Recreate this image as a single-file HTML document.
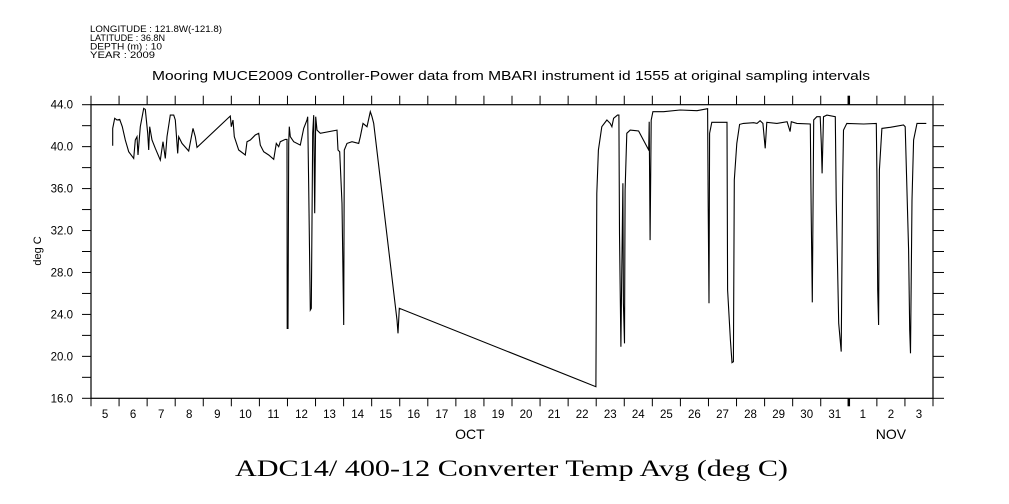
<!DOCTYPE html>
<html><head><meta charset="utf-8"><style>
body{margin:0;background:#fff;}
svg{display:block;font-family:"Liberation Sans",sans-serif;}
</style></head><body>
<svg width="1009" height="504" viewBox="0 0 1009 504" xmlns="http://www.w3.org/2000/svg">
<g font-size="9" fill="#000">
<text x="90" y="32" textLength="132" lengthAdjust="spacingAndGlyphs">LONGITUDE : 121.8W(-121.8)</text>
<text x="90" y="41" textLength="75" lengthAdjust="spacingAndGlyphs">LATITUDE : 36.8N</text>
<text x="90" y="49.5" textLength="72" lengthAdjust="spacingAndGlyphs">DEPTH (m) : 10</text>
<text x="90" y="58" textLength="65" lengthAdjust="spacingAndGlyphs">YEAR : 2009</text>
</g>
<text x="152" y="80" font-size="13" textLength="718" lengthAdjust="spacingAndGlyphs">Mooring MUCE2009 Controller-Power data from MBARI instrument id 1555 at original sampling intervals</text>
<text x="0" y="0" font-size="11" text-anchor="middle" transform="translate(41,251) rotate(-90)">deg C</text>
<text x="235" y="476" font-size="23" textLength="553" lengthAdjust="spacingAndGlyphs" font-family="Liberation Serif, serif">ADC14/ 400-12 Converter Temp Avg (deg C)</text>
<g id="axes"></g>
<path id="series" fill="none" stroke="#000" stroke-width="1.1"/>
</svg>
<script>
const days=[0.772,0.772,0.843,0.926,1.021,1.116,1.223,1.342,1.520,1.580,1.639,1.675,1.758,1.876,1.936,2.019,2.055,2.090,2.173,2.292,2.470,2.565,2.648,2.708,2.827,2.945,3.005,3.088,3.124,3.242,3.480,3.634,3.717,3.777,4.964,5.000,5.059,5.107,5.261,5.499,5.558,5.677,5.855,5.974,6.033,6.152,6.330,6.508,6.603,6.686,6.746,6.924,6.983,6.990,7.019,7.043,7.067,7.102,7.221,7.458,7.577,7.696,7.720,7.755,7.815,7.850,7.898,7.933,7.969,8.005,8.052,8.171,8.765,8.800,8.860,8.943,9.002,9.026,9.121,9.299,9.537,9.596,9.691,9.834,9.952,10.012,10.071,10.903,10.938,10.986,17.99,18.02,18.08,18.20,18.38,18.50,18.56,18.62,18.76,18.81,18.83,18.88,18.91,18.95,18.97,19.01,19.03,19.09,19.21,19.51,19.87,19.89,19.92,19.96,20.02,20.40,20.99,21.59,21.97,21.99,22.02,22.04,22.12,22.66,22.68,22.78,22.84,22.89,22.92,23.01,23.11,23.25,23.61,23.73,23.84,23.94,24.02,24.08,24.44,24.80,24.91,24.95,25.15,25.63,25.66,25.70,25.75,25.86,25.98,26.02,26.05,26.10,26.22,26.52,26.55,26.64,26.73,26.78,26.81,26.93,27.53,27.98,28.00,28.03,28.06,28.09,28.18,28.48,28.95,29.01,29.13,29.17,29.20,29.25,29.31,29.43,29.76];
const temps=[40.09,41.74,42.70,42.54,42.60,41.90,40.63,39.52,38.88,40.63,40.95,39.20,41.90,43.65,43.55,41.27,39.68,41.90,40.63,39.84,38.72,40.47,38.88,40.95,43.01,43.01,42.54,39.36,40.95,40.31,39.58,41.74,40.95,39.93,42.92,41.90,42.54,40.95,39.68,39.20,40.47,40.63,41.11,41.27,40.15,39.52,39.20,38.79,40.31,39.99,40.47,40.69,40.69,22.67,22.67,40.31,41.90,40.95,40.47,40.15,41.74,42.54,42.86,36.18,24.42,24.58,41.27,43.01,33.64,42.86,41.58,41.27,41.58,39.68,39.52,34.59,22.99,39.68,40.31,40.47,40.31,40.95,42.22,41.90,43.33,42.86,42.22,23.47,22.20,24.58,17.11,35.54,39.68,41.90,42.54,42.22,41.90,42.70,43.01,43.01,31.73,20.92,27.60,36.50,25.06,21.24,35.86,41.27,41.58,41.49,39.68,42.38,31.09,42.54,43.33,43.33,43.49,43.43,43.62,34.27,25.06,41.27,42.32,42.32,26.33,21.56,19.40,19.49,36.82,40.31,42.12,42.22,42.28,42.22,42.47,42.22,39.84,42.32,42.22,42.38,41.43,42.38,42.22,42.16,33.64,25.15,42.54,42.86,42.86,40.31,37.45,42.86,43.01,42.86,34.91,23.15,20.45,36.18,41.58,42.22,42.16,42.22,37.45,26.33,22.99,37.77,41.74,41.84,42.06,41.90,30.14,22.51,20.29,34.91,40.63,42.22,42.22];
const yTicks=[16,20,24,28,32,36,40,44];
const dayLabels=["5","6","7","8","9","10","11","12","13","14","15","16","17","18","19","20","21","22","23","24","25","26","27","28","29","30","31","1","2","3"];
const X0=91,X1=933,Y0=398.3,Y1=104.7,NDAYS=30,YMIN=16,YMAX=44;
function xs(d){return X0+(X1-X0)*d/NDAYS;}
function ys(t){return Y0-(Y0-Y1)*(t-YMIN)/(YMAX-YMIN);}
const NS="http://www.w3.org/2000/svg";
const g=document.getElementById('axes');
function mk(tag,attrs,parent){const e=document.createElementNS(NS,tag);for(const k in attrs)e.setAttribute(k,attrs[k]);(parent||g).appendChild(e);return e;}
let e=mk('rect',{x:X0,y:Y1,width:X1-X0,height:Y0-Y1,fill:'none',stroke:'#000','stroke-width':1.2});


for(let v=YMIN;v<=YMAX;v+=2){
 const y=ys(v);
 e=mk('line',{x1:X0-9,x2:X0,y1:y,y2:y,stroke:'#000','stroke-width':1});
 
 
 e=mk('line',{x1:X1,x2:X1+11,y1:y,y2:y,stroke:'#000','stroke-width':1});
 
 
}
yTicks.forEach(v=>{
 e=mk('text',{x:X0-18,y:ys(v)+4,'font-size':11.5,'text-anchor':'end'});
 e.textContent=v.toFixed(1);
 
 
});
for(let d=0;d<=NDAYS;d++){
 const x=xs(d);const w=(d===27)?2.5:1;
 e=mk('line',{x1:x,x2:x,y1:Y0,y2:Y0+8,stroke:'#000','stroke-width':w});
 
 
 e=mk('line',{x1:x,x2:x,y1:Y1-9,y2:Y1,stroke:'#000','stroke-width':w});
 
 
}
dayLabels.forEach((l,i)=>{
 e=mk('text',{x:xs(i+0.5),y:418,'font-size':11.5,'text-anchor':'middle'});
 e.textContent=l;
 
 
});
e=mk('text',{x:xs(13.5),y:439,'font-size':14,'text-anchor':'middle'});e.textContent='OCT';


e=mk('text',{x:xs(28.5),y:439,'font-size':14,'text-anchor':'middle'});e.textContent='NOV';


document.getElementById('series').setAttribute('d',days.map((d,i)=>(i?'L':'M')+xs(d).toFixed(1)+' '+ys(temps[i]).toFixed(1)).join(' '));
</script>
</body></html>
